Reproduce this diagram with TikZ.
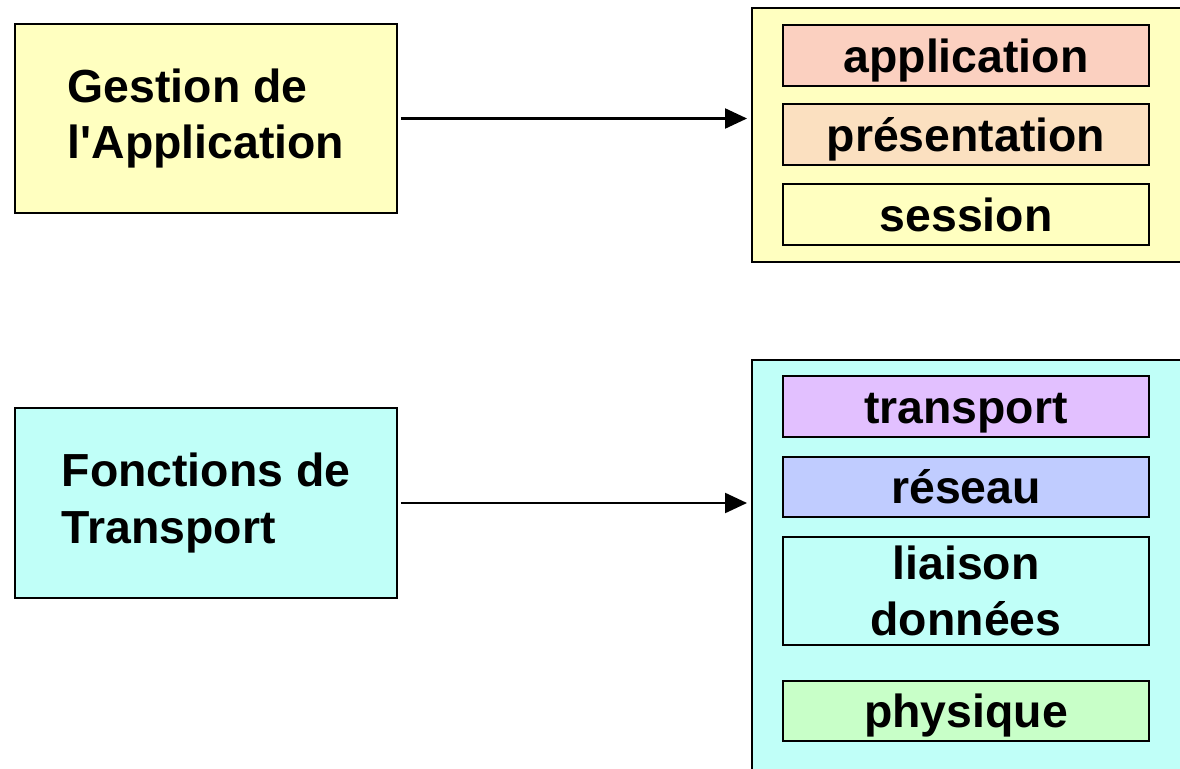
\documentclass[tikz,border=0pt]{standalone}
\usepackage{fontspec}
\setmainfont{Liberation Sans}
\usepackage{tikz}
\usetikzlibrary{shapes}
\usetikzlibrary{arrows.meta}

\definecolor{jaune}{RGB}{255,255,192}
\definecolor{cyan2}{RGB}{192,255,248}
\definecolor{saumon}{RGB}{251,208,192}
\definecolor{peche}{RGB}{251,224,192}
\definecolor{lilas}{RGB}{226,192,255}
\definecolor{bleu}{RGB}{192,204,255}
\definecolor{vert}{RGB}{200,255,200}

\begin{document}
\begin{tikzpicture}
	 \tikzstyle{txt}=[font=\bfseries\fontsize{33}{40}\selectfont]
	 \tikzstyle{fonction} = [txt, draw=black, line width=1.4pt, inner sep=0pt, minimum width=9.55cm, minimum height=4.73cm, align=left]
	 \tikzstyle{groupe} = [draw=black, line width=1.4pt, minimum width=10.95cm]
	 \tikzstyle{couche} = [txt, draw=black, line width=1.4pt, inner sep=0pt, minimum width=9.15cm, minimum height=1.52cm]
	 \tikzstyle{simple} = [couche, text height=23.5pt, text depth=0pt]
	 \tikzstyle{fleche} = [-{Triangle[length=0.55cm,width=0.5cm]}, black, line width=1.6pt, shorten <=0.075cm, shorten >=0.1cm]

	\useasboundingbox (0,0) rectangle (29.5,-19.225);

	 \node[fonction, fill=jaune] (gestion) at (5.15,-2.9625) 		{Gestion de\\l\textquotesingle Application};
	 \node[fonction, fill=cyan2] (fonctions) at (5.15,-12.575) 		{Fonctions de\\Transport};

	 \node[groupe, fill=jaune, minimum height=6.35cm] (haut) at (24.275,-3.375) {};
	 \node[groupe, fill=cyan2, minimum height=10.75cm] (bas) at (24.275,-14.375) {};

	 \node[simple, fill=saumon] (application) at (24.15,-1.3875)		{application};
	 \node[simple, fill=peche] (presentation) at (24.15,-3.3625)		{présentation};
	 \node[simple, fill=jaune] (session) at (24.15,-5.3625)			{session};

	 \node[simple, fill=lilas] (transport) at (24.15,-10.1625)		{transport};
	 \node[simple, fill=bleu] (reseau) at (24.15,-12.175)			{réseau};
	 \node[couche, fill=cyan2, align=center, minimum height=2.7cm] (liaison) at (24.15,-14.775) {liaison\\données};
	 \node[simple, fill=vert] (physique) at (24.15,-17.775)			{physique};

	\draw[fleche] (gestion.east) -- (gestion.east -| haut.west);
	\draw[fleche] (fonctions.east) -- (fonctions.east -| bas.west);
\end{tikzpicture}
\end{document}
